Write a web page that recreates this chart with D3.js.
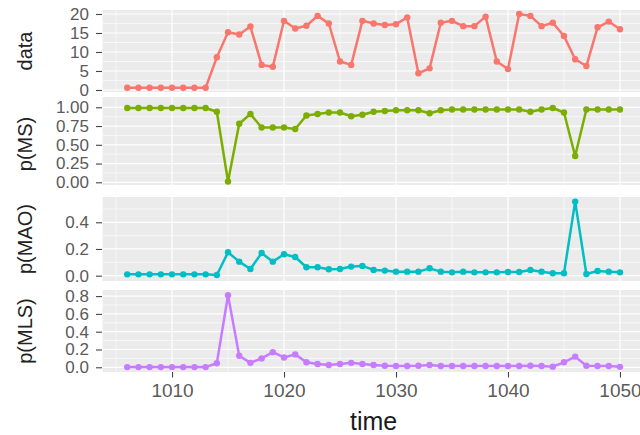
<!DOCTYPE html>
<html><head><meta charset="utf-8">
<script src="https://cdn.jsdelivr.net/npm/d3@7"></script>
<style>html,body{margin:0;padding:0;background:#fff}svg{display:block}</style>
</head><body><svg id="c" width="640" height="435"></svg>
<script>
const times = [1006,1007,1008,1009,1010,1011,1012,1013,1014,1015,1016,1017,1018,1019,1020,1021,1022,1023,1024,1025,1026,1027,1028,1029,1030,1031,1032,1033,1034,1035,1036,1037,1038,1039,1040,1041,1042,1043,1044,1045,1046,1047,1048,1049,1050];
const dataVals = [0.6,0.6,0.6,0.6,0.6,0.6,0.6,0.6,8.6,15.2,14.6,16.7,6.6,6.1,18.2,16.2,16.9,19.5,17.5,7.5,6.6,18.2,17.5,17.1,17.3,19.1,4.4,5.7,17.7,18.2,16.8,16.8,19.3,7.5,5.5,20.0,19.5,16.8,17.7,14.2,8.1,6.3,16.5,18.0,16.0];
const pMS = [0.99,0.99,0.99,0.99,0.99,0.99,0.99,0.99,0.94,0.01,0.78,0.91,0.73,0.73,0.73,0.71,0.89,0.91,0.93,0.93,0.88,0.90,0.94,0.95,0.96,0.96,0.96,0.92,0.96,0.97,0.97,0.97,0.97,0.97,0.97,0.97,0.94,0.97,0.99,0.93,0.35,0.97,0.97,0.97,0.97];
const pMAO = [0.01,0.01,0.01,0.01,0.01,0.01,0.01,0.01,0.005,0.175,0.105,0.05,0.17,0.105,0.16,0.14,0.063,0.063,0.048,0.05,0.068,0.073,0.043,0.038,0.03,0.03,0.03,0.055,0.03,0.025,0.03,0.025,0.025,0.025,0.028,0.028,0.043,0.03,0.018,0.018,0.555,0.013,0.035,0.03,0.025];
const pMLS = [0.002,0.002,0.002,0.002,0.002,0.002,0.002,0.002,0.045,0.81,0.13,0.05,0.10,0.17,0.11,0.145,0.056,0.037,0.026,0.037,0.05,0.037,0.026,0.018,0.015,0.015,0.018,0.026,0.015,0.015,0.015,0.015,0.015,0.015,0.015,0.015,0.018,0.015,0.007,0.056,0.12,0.018,0.015,0.015,0.005];

const xTicks = [1010,1020,1030,1040,1050];
const xMinor = [1005,1015,1025,1035,1045];
const ticksData = [0,5,10,15,20];
const minorData = [2.5,7.5,12.5,17.5];
const ticksMS = [0,0.25,0.5,0.75,1.0];
const minorMS = [0.125,0.375,0.625,0.875];
const ticksMAO = [0,0.2,0.4];
const minorMAO = [0.1,0.3,0.5];
const ticksMLS = [0,0.2,0.4,0.6,0.8];
const minorMLS = [0.1,0.3,0.5,0.7];
const seriesNames = ["data","p(MS)","p(MAO)","p(MLS)"];
const colors = ["#F8766D","#7CAE00","#00BFC4","#C77CFF"];

const panels = [
  {name:seriesNames[0], vals:dataVals, color:colors[0], ticks:ticksData, minor:minorData, fmt:d3.format("d"), domain:[-0.53,21.05], top:10, bottom:92},
  {name:seriesNames[1], vals:pMS, color:colors[1], ticks:ticksMS, minor:minorMS, fmt:d3.format(".2f"), domain:[-0.036,1.137], top:97, bottom:185},
  {name:seriesNames[2], vals:pMAO, color:colors[2], ticks:ticksMAO, minor:minorMAO, fmt:d3.format(".1f"), domain:[-0.04,0.5895], top:197, bottom:281},
  {name:seriesNames[3], vals:pMLS, color:colors[3], ticks:ticksMLS, minor:minorMLS, fmt:d3.format(".1f"), domain:[-0.053,0.8685], top:290, bottom:372}
];

const svg = d3.select("#c");
const x = d3.scaleLinear().domain([1003.8,1052.2]).range([102.6,644.6]);
const xl = x.range()[0], xr = x.range()[1];
const font = "'Liberation Sans', Arial, Helvetica, sans-serif";

panels.forEach(p => {
  const y = d3.scaleLinear().domain(p.domain).range([p.bottom, p.top]);
  const g = svg.append("g");
  g.append("rect").attr("x", xl).attr("y", p.top).attr("width", xr - xl).attr("height", p.bottom - p.top).attr("fill", "#EBEBEB");
  g.selectAll(".ym").data(p.minor).join("line")
    .attr("x1", xl).attr("x2", xr).attr("y1", d => y(d)).attr("y2", d => y(d))
    .attr("stroke", "#fff").attr("stroke-width", 0.6);
  g.selectAll(".xm").data(xMinor).join("line")
    .attr("x1", d => x(d)).attr("x2", d => x(d)).attr("y1", p.top).attr("y2", p.bottom)
    .attr("stroke", "#fff").attr("stroke-width", 0.6);
  g.selectAll(".yM").data(p.ticks).join("line")
    .attr("x1", xl).attr("x2", xr).attr("y1", d => y(d)).attr("y2", d => y(d))
    .attr("stroke", "#fff").attr("stroke-width", 1.2);
  g.selectAll(".xM").data(xTicks).join("line")
    .attr("x1", d => x(d)).attr("x2", d => x(d)).attr("y1", p.top).attr("y2", p.bottom)
    .attr("stroke", "#fff").attr("stroke-width", 1.2);
  const ax = d3.axisLeft(y).tickValues(p.ticks).tickFormat(p.fmt).tickSizeInner(6).tickSizeOuter(0).tickPadding(7);
  const ag = svg.append("g").attr("transform", `translate(${xl - 0.6},0)`).call(ax);
  ag.select(".domain").remove();
  ag.selectAll(".tick line").attr("stroke", "#444").attr("stroke-width", 1.1);
  ag.selectAll(".tick text").attr("fill", "#5a5a5a").attr("font-size", 17).attr("font-family", font);
  svg.append("text")
    .attr("transform", `translate(32,${(p.top + p.bottom) / 2 + (p.name === "p(MS)" ? 3 : 0)}) rotate(-90)`)
    .attr("text-anchor", "middle").attr("font-size", 20).attr("font-family", font).attr("fill", "#222")
    .text(p.name);
  const pts = times.map((t, i) => [t, p.vals[i]]);
  g.append("path").datum(pts)
    .attr("d", d3.line().x(d => x(d[0])).y(d => y(d[1])))
    .attr("fill", "none").attr("stroke", p.color).attr("stroke-width", 2.5).attr("stroke-linejoin", "round");
  g.selectAll("circle").data(pts).join("circle")
    .attr("cx", d => x(d[0])).attr("cy", d => y(d[1])).attr("r", 3.2).attr("fill", p.color);
});

const last = panels[panels.length - 1];
const xa = d3.axisBottom(x).tickValues(xTicks).tickFormat(d3.format("d")).tickSizeInner(5.5).tickSizeOuter(0).tickPadding(6);
const xg = svg.append("g").attr("transform", `translate(0,${last.bottom})`).call(xa);
xg.select(".domain").remove();
xg.selectAll(".tick line").attr("stroke", "#444").attr("stroke-width", 1.1);
xg.selectAll(".tick text").attr("fill", "#5a5a5a").attr("font-size", 19).attr("font-family", font);

svg.append("text").attr("x", (xl + xr) / 2).attr("y", 430)
  .attr("text-anchor", "middle").attr("font-size", 25).attr("font-family", font).attr("fill", "#1a1a1a")
  .text("time");
</script></body></html>
